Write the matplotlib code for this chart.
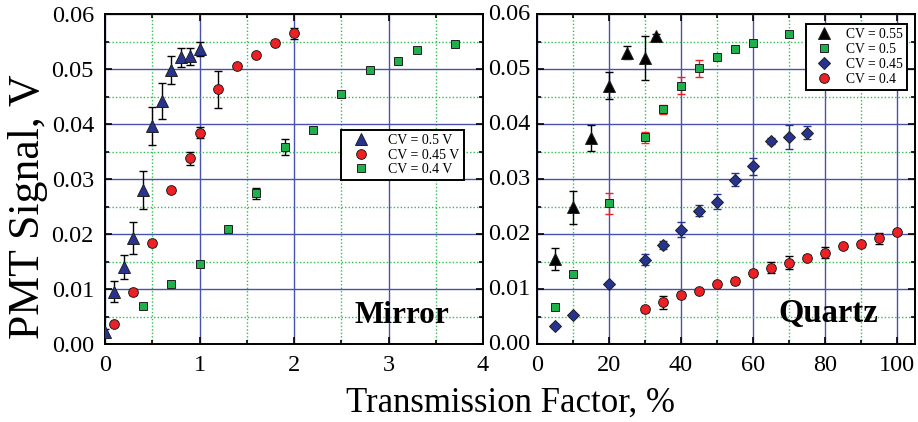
import numpy as np
import matplotlib.pyplot as plt
from matplotlib.ticker import MultipleLocator, FormatStrFormatter

plt.rcParams['font.family'] = ['Liberation Serif', 'DejaVu Serif']

# Mirror panel
m_x_05 = [0.0, 0.1, 0.2, 0.3, 0.4, 0.5, 0.6, 0.7, 0.8, 0.9, 1.0]
m_y_05 = [0.0022, 0.0095, 0.0140, 0.0193, 0.0280, 0.0396, 0.0442, 0.0498, 0.0521, 0.0523, 0.0536]
m_e_05 = [0.0005, 0.0019, 0.0022, 0.0029, 0.0034, 0.0035, 0.0033, 0.0026, 0.0017, 0.0015, 0.0013]

m_x_045 = [0.1, 0.3, 0.5, 0.7, 0.9, 1.0, 1.2, 1.4, 1.6, 1.8, 2.0]
m_y_045 = [0.0036, 0.0095, 0.0183, 0.0280, 0.0338, 0.0384, 0.0463, 0.0505, 0.0525, 0.0548, 0.0565]
m_e_045 = [0.0004, 0.0005, 0.0005, 0.0004, 0.0012, 0.0010, 0.0034, 0.0004, 0.0004, 0.0004, 0.0010]

m_x_04 = [0.4, 0.7, 1.0, 1.3, 1.6, 1.9, 2.2, 2.5, 2.8, 3.1, 3.3, 3.7]
m_y_04 = [0.0069, 0.0109, 0.0146, 0.0210, 0.0274, 0.0358, 0.0390, 0.0455, 0.0499, 0.0515, 0.0535, 0.0546]
m_e_04 = [0.0003, 0.0004, 0.0003, 0.0003, 0.0010, 0.0015, 0.0004, 0.0005, 0.0003, 0.0003, 0.0003, 0.0003]

# Quartz panel
q_x_055 = [5, 10, 15, 20, 25, 30, 33]
q_y_055 = [0.0155, 0.0249, 0.0375, 0.0470, 0.0530, 0.0520, 0.0560]
q_e_055 = [0.0020, 0.0030, 0.0024, 0.0025, 0.0012, 0.0040, 0.0004]

q_x_05 = [5, 10, 20, 30, 35, 40, 45, 50, 55, 60, 70]
q_y_05 = [0.0067, 0.0128, 0.0256, 0.0376, 0.0427, 0.0470, 0.0501, 0.0522, 0.0536, 0.0547, 0.0564]
q_e_05 = [0.0004, 0.0004, 0.0019, 0.0010, 0.0008, 0.0015, 0.0016, 0.0004, 0.0004, 0.0005, 0.0005]

q_x_045 = [5, 10, 20, 30, 35, 40, 45, 50, 55, 60, 65, 70, 75]
q_y_045 = [0.0033, 0.0052, 0.0110, 0.0153, 0.0180, 0.0208, 0.0242, 0.0259, 0.0299, 0.0323, 0.0369, 0.0376, 0.0384]
q_e_045 = [0.0003, 0.0003, 0.0003, 0.0010, 0.0008, 0.0014, 0.0010, 0.0013, 0.0012, 0.0015, 0.0005, 0.0022, 0.0012]

q_x_04 = [30, 35, 40, 45, 50, 55, 60, 65, 70, 75, 80, 85, 90, 95, 100]
q_y_04 = [0.0063, 0.0076, 0.0089, 0.0096, 0.0109, 0.0115, 0.0130, 0.0139, 0.0148, 0.0157, 0.0166, 0.0178, 0.0181, 0.0192, 0.0204]
q_e_04 = [0.0004, 0.0012, 0.0006, 0.0004, 0.0004, 0.0005, 0.0004, 0.0010, 0.0012, 0.0004, 0.0010, 0.0004, 0.0004, 0.0010, 0.0004]

y_ticks = [0.00, 0.01, 0.02, 0.03, 0.04, 0.05, 0.06]

navy = '#26338f'
red = '#ee2024'
green = '#1fb04b'
gridblue = '#4a52b0'
gridgreen = '#2fc050'

fig = plt.figure(figsize=(9.18, 4.22), dpi=100)
ax1 = fig.add_axes([0.1144, 0.1848, 0.4118, 0.782])
ax2 = fig.add_axes([0.585, 0.1848, 0.4118, 0.782])


def style(ax, xmaj, xmin):
    ax.set_ylim(0, 0.06)
    ax.yaxis.set_major_locator(MultipleLocator(0.01))
    ax.yaxis.set_minor_locator(MultipleLocator(0.005))
    ax.yaxis.set_major_formatter(FormatStrFormatter('%.2f'))
    ax.xaxis.set_major_locator(MultipleLocator(xmaj))
    ax.xaxis.set_minor_locator(MultipleLocator(xmin))
    ax.tick_params(which='both', direction='in', top=True, right=True,
                   labelsize=17.5, width=1.2, pad=8)
    ax.tick_params(which='major', length=5)
    ax.tick_params(which='minor', length=3)
    ax.grid(which='major', color=gridblue, lw=1.0, ls='-')
    ax.grid(which='minor', color=gridgreen, lw=1.0, ls=(0, (1, 1.5)))
    ax.set_axisbelow(True)
    for s in ax.spines.values():
        s.set_linewidth(1.4)


def series(ax, x, y, e, marker, face, ecol, ms, label):
    ax.errorbar(x, y, yerr=e, fmt='none', ecolor=ecol, elinewidth=1.0,
                capsize=3, capthick=1.0, zorder=3)
    ax.plot(x, y, ls='none', marker=marker, ms=ms, mfc=face, mec='#202020',
            mew=0.7, label=label, zorder=4)


style(ax1, 1, 0.5)
ax1.set_xlim(0, 4)
series(ax1, m_x_05, m_y_05, m_e_05, '^', navy, 'black', 8.5, 'CV = 0.5 V')
series(ax1, m_x_045, m_y_045, m_e_045, 'o', red, 'black', 7, 'CV = 0.45 V')
series(ax1, m_x_04, m_y_04, m_e_04, 's', green, 'black', 6, 'CV = 0.4 V')
leg1 = ax1.legend(loc='upper left', bbox_to_anchor=(0.624, 0.648), fontsize=10,
                  numpoints=1, fancybox=False, edgecolor='black', framealpha=1,
                  borderpad=0.3, labelspacing=0.1, handletextpad=0.8,
                  handlelength=2.3, borderaxespad=0)
leg1.get_frame().set_linewidth(1.4)
ax1.text(3.14, 0.0052, 'Mirror', fontsize=22.5, fontweight='bold',
         ha='center', va='center')
ax1.set_ylabel('PMT Signal, V', fontsize=31.5)
ax1.yaxis.set_label_coords(-0.151, 0.415)

style(ax2, 20, 10)
ax2.set_xlim(0, 105)
ax2.tick_params(labelleft=False)
series(ax2, q_x_055, q_y_055, q_e_055, '^', 'black', 'black', 8, 'CV = 0.55')
series(ax2, q_x_05, q_y_05, q_e_05, 's', green, red, 6, 'CV = 0.5')
series(ax2, q_x_045, q_y_045, q_e_045, 'D', navy, navy, 6.5, 'CV = 0.45')
series(ax2, q_x_04, q_y_04, q_e_04, 'o', red, 'black', 7, 'CV = 0.4')
leg2 = ax2.legend(loc='upper left', bbox_to_anchor=(0.712, 0.97), fontsize=9.8,
                  numpoints=1, fancybox=False, edgecolor='black', framealpha=1,
                  borderpad=0.3, labelspacing=0.15, handletextpad=0.6,
                  handlelength=2.0, borderaxespad=0)
leg2.get_frame().set_linewidth(1.4)
ax2.text(80.8, 0.0056, 'Quartz', fontsize=23.5, fontweight='bold',
         ha='center', va='center')

# y tick labels of the right panel sit in the gap between the panels
for v in y_ticks:
    ax2.annotate('%.2f' % v, xy=(0, v), xycoords=('axes fraction', 'data'),
                 xytext=(-20, 0), textcoords='offset points',
                 fontsize=17.5, ha='center', va='center', annotation_clip=False)

fig.text(0.556, 0.025, 'Transmission Factor, %', fontsize=25, ha='center')

fig.savefig('out.png', dpi=100)
